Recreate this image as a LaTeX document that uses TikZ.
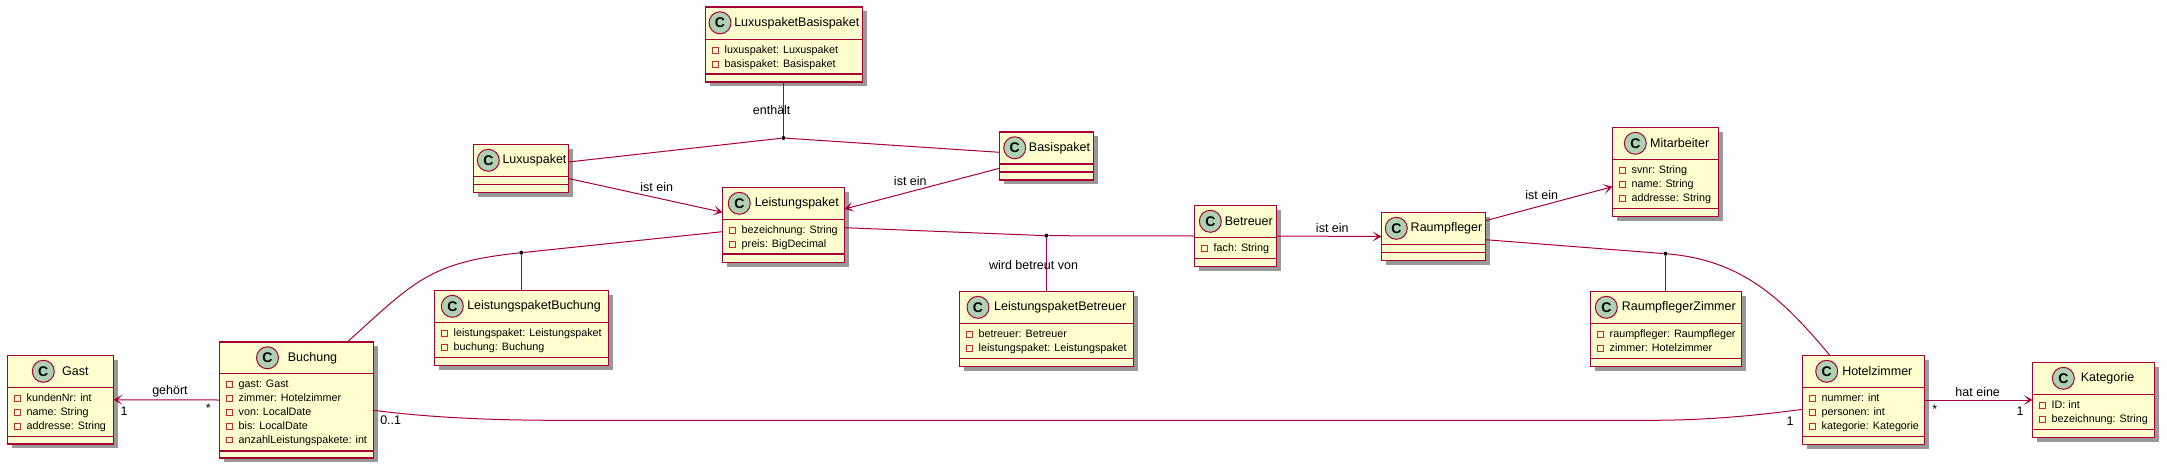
\documentclass[tikz,border=0pt]{standalone}
\usepackage{fontspec}
\setmainfont{Liberation Sans}
\usetikzlibrary{arrows.meta,shadows}
\definecolor{umlred}{HTML}{A80036}
\definecolor{umlfill}{HTML}{FEFECE}
\definecolor{umlicon}{HTML}{ADD1B2}
\definecolor{umlpriv}{HTML}{C82930}
% small square in front of a field
\newcommand{\priv}{\rule{0pt}{9pt}\llap{\raisebox{0.9pt}{\setlength{\fboxsep}{0pt}\setlength{\fboxrule}{0.9pt}\fcolorbox{umlpriv}{umlfill}{\rule{0pt}{5pt}\hspace{5pt}}}\hspace{6.2pt}}}
% name, left, top, right, bottom, first and second separator
\newcommand{\classbox}[7]{
\node[main, minimum width={(#4-#2)*1pt}, minimum height={(#5-#3)*1pt}] (#1) at ({(#2+#4)/2},{(#3+#5)/2}) {};
\draw[sepline] (#2,#6) -- (#4,#6);
\draw[sepline] (#2,#7) -- (#4,#7);
\def\classleft{#2}\def\classtop{#3}\def\classsep{#6}
}
% name, icon x, title x, title, fields
\newcommand{\classtext}[5]{
\node[classicon] (#1icon) at (#2,\classtop+15.8) {C};
\node[classtitle] (#1title) at (#3,\classtop+15.8) {#4};
\node[classfields] (#1fields) at (\classleft+19,\classsep+5.2) {#5};
}
\begin{document}
\begin{tikzpicture}[x=1pt, y=-1pt,
main/.style = {draw=umlred, fill=umlfill, line width=1.5pt, inner sep=0pt, outer sep=0pt,
  drop shadow={shadow xshift=4pt, shadow yshift=-4pt, fill=black, opacity=.4}},
sepline/.style = {draw=umlred, line width=1.5pt},
classicon/.style = {draw=umlred, fill=umlicon, circle, line width=1pt, minimum size=22pt, inner sep=0pt, font=\fontsize{14}{14}\selectfont\bfseries},
classtitle/.style = {inner sep=0pt, font=\fontsize{12.5}{14}\selectfont},
classfields/.style = {anchor=north west, inner sep=0pt, align=left, font=\fontsize{10.75}{13.85}\selectfont},
edge/.style = {draw=umlred, line width=1pt},
link/.style = {edge, -{Stealth[length=9pt, width=10pt, inset=5pt]}},
dot/.style = {circle, fill=black, minimum size=4pt, inner sep=0pt},
lab/.style = {inner sep=0pt, font=\fontsize{12.5}{14}\selectfont}]
\useasboundingbox (0,0) rectangle (2167,471);

\classbox{gast}{7.5}{355.5}{113.5}{444}{387.5}{436.5}
\classtext{gast}{43.3}{75.3}{Gast}{\priv kundenNr: int\\\priv name: String\\\priv addresse: String}
\classbox{buchung}{219.5}{342}{373.5}{458}{373.5}{451}
\classtext{buchung}{267.5}{312.5}{Buchung}{\priv gast: Gast\\\priv zimmer: Hotelzimmer\\\priv von: LocalDate\\\priv bis: LocalDate\\\priv anzahlLeistungspakete: int}
\classbox{luxusbasis}{705.5}{7}{862.5}{82}{39.5}{74}
\classtext{luxusbasis}{720}{796.8}{LuxuspaketBasispaket}{\priv luxuspaket: Luxuspaket\\\priv basispaket: Basispaket}
\classbox{luxus}{473.5}{144.5}{568.5}{192.5}{176.5}{184.5}
\classtext{luxus}{488.3}{534.5}{Luxuspaket}{}
\classbox{paket}{722.5}{187.5}{844.5}{262.5}{219.5}{254}
\classtext{paket}{739.3}{796.8}{Leistungspaket}{\priv bezeichnung: String\\\priv preis: BigDecimal}
\classbox{paketbuchung}{434.5}{290.5}{608.5}{365.5}{322.5}{357.5}
\classtext{paketbuchung}{452.3}{534}{LeistungspaketBuchung}{\priv leistungspaket: Leistungspaket\\\priv buchung: Buchung}
\classbox{basis}{999.5}{132}{1093.5}{180}{164}{172}
\classtext{basis}{1014.7}{1059.5}{Basispaket}{}
\classbox{betreuer}{1194.5}{205.5}{1276.5}{266.5}{237.5}{258.5}
\classtext{betreuer}{1210.3}{1248.8}{Betreuer}{\priv fach: String}
\classbox{paketbetreuer}{959.5}{291.5}{1133.5}{366.5}{323.5}{358.5}
\classtext{paketbetreuer}{978}{1060.2}{LeistungspaketBetreuer}{\priv betreuer: Betreuer\\\priv leistungspaket: Leistungspaket}
\classbox{raumpfleger}{1381.5}{212.5}{1485.5}{260.5}{244.5}{252.5}
\classtext{raumpfleger}{1396.3}{1446.5}{Raumpfleger}{}
\classbox{mitarbeiter}{1612.5}{127.5}{1718.5}{216.5}{159.5}{208.5}
\classtext{mitarbeiter}{1635.3}{1679.7}{Mitarbeiter}{\priv svnr: String\\\priv name: String\\\priv addresse: String}
\classbox{pflegerzimmer}{1590.5}{291.5}{1741.5}{366.5}{323.5}{358.5}
\classtext{pflegerzimmer}{1606.3}{1678.8}{RaumpflegerZimmer}{\priv raumpfleger: Raumpfleger\\\priv zimmer: Hotelzimmer}
\classbox{hotel}{1802.5}{355.5}{1924.5}{444.5}{387.5}{436.5}
\classtext{hotel}{1826.7}{1877.3}{Hotelzimmer}{\priv nummer: int\\\priv personen: int\\\priv kategorie: Kategorie}
\classbox{kategorie}{2032.5}{362.5}{2154.5}{437.5}{394.5}{429.5}
\classtext{kategorie}{2063.3}{2107.5}{Kategorie}{\priv ID: int\\\priv bezeichnung: String}

\node[dot] (dot1) at (783.5,138) {};
\node[dot] (dot2) at (1046.3,235.7) {};
\node[dot] (dot3) at (1665.5,253.7) {};
\node[dot] (dot4) at (521.3,252.7) {};

\draw[link] (buchung.west) -- (gast.east);
\draw[link] (hotel.east) -- (kategorie.west);
\draw[link] (betreuer.east) -- (raumpfleger.west);
\draw[edge] (luxusbasis.south -| dot1) -- (dot1);
\draw[edge] ([yshift=6.5pt]luxus.east) -- (dot1) -- ([yshift=3.7pt]basis.west);
\draw[link] ([yshift=14pt]luxus.south east) -- ([yshift=-24.8pt]paket.north west);
\draw[link] ([yshift=11.7pt]basis.south west) -- ([yshift=16pt]paket.east);
\draw[link] ([yshift=-8.2pt]raumpfleger.north east) -- ([yshift=-14.7pt]mitarbeiter.west);
\draw[edge] ([yshift=-2.7pt]paket.east) -- (dot2) -- (betreuer.west);
\draw[edge] (dot2) -- (paketbetreuer.north -| dot2);
\draw[edge] (dot4) -- (paketbuchung.north -| dot4);
\draw[edge] (dot3) -- (pflegerzimmer.north -| dot3);
\draw[edge] ([yshift=-6.7pt]paket.west) -- (dot4);
\draw[edge] ([xshift=50.8pt]buchung.north) to[out=42, in=186, looseness=1.2] (dot4);
\draw[edge] ([yshift=-3.2pt]raumpfleger.east) -- (dot3);
\draw[edge] (dot3) to[out=-5, in=130, looseness=1] ([xshift=-33.5pt]hotel.north);
\coordinate (flatleft) at (560,420.3);
\coordinate (flatright) at (1650,420.3);
\draw[edge] ([yshift=-10.3pt]buchung.east) .. controls (430,417.5) and (490,420.3) .. (flatleft) -- (flatright) .. controls (1710,420.3) and (1760,415) .. ([yshift=-9.3pt]hotel.west);

\node[lab] (enthaelt) at (771.7,110.3) {enthält};
\node[lab] (istein1) at (656.7,186.7) {ist ein};
\node[lab] (istein2) at (910.3,180.7) {ist ein};
\node[lab] (betreutvon) at (1033.5,265.3) {wird betreut von};
\node[lab] (istein3) at (1332.3,227.7) {ist ein};
\node[lab] (istein4) at (1541.7,194.7) {ist ein};
\node[lab] (gehoert) at (170,391.7) {gehört};
\node[lab] (hateine) at (1977.7,391.7) {hat eine};
\node[lab] (multgast) at (124,410.7) {1};
\node[lab] (multbuchung) at (208.3,408.5) {*};
\node[lab] (multnull) at (390.7,420) {0..1};
\node[lab] (multeins) at (1790,420.7) {1};
\node[lab] (multhotel) at (1934.7,409.5) {*};
\node[lab] (multkat) at (2020,410.7) {1};
\end{tikzpicture}
\end{document}
